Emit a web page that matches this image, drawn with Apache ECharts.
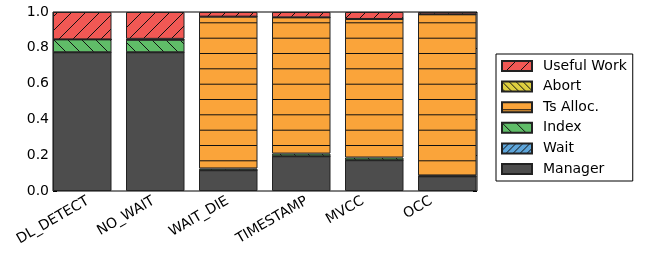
<!DOCTYPE html>
<html>
<head>
<meta charset="utf-8">
<script src="https://cdn.jsdelivr.net/npm/echarts@6/dist/echarts.min.js"></script>
<style>
html, body { margin: 0; padding: 0; background: #fff; }
#chart { width: 647px; height: 255px; }
</style>
</head>
<body>
<div id="chart"></div>
<script>
var categories = ['DL_DETECT', 'NO_WAIT', 'WAIT_DIE', 'TIMESTAMP', 'MVCC', 'OCC'];
var manager = [0.775, 0.775, 0.116, 0.194, 0.172, 0.082];
var wait = [0, 0, 0, 0, 0, 0];
var index = [0.072, 0.070, 0.010, 0.015, 0.015, 0.005];
var tsAlloc = [0, 0, 0.848, 0.761, 0.774, 0.900];
var abort = [0, 0.005, 0, 0, 0, 0];
var useful = [0.153, 0.150, 0.026, 0.030, 0.039, 0.013];

var FONT = '"DejaVu Sans", sans-serif';
var barWidth = 58.5;

// hatch fills like matplotlib
function hatch(bg, kind) {
	var s = kind === '-' ? 46 : 14;
	var c = document.createElement('canvas');
	c.width = s; c.height = s;
	var g = c.getContext('2d');
	g.fillStyle = bg;
	g.fillRect(0, 0, s, s);
	g.strokeStyle = '#111';
	g.lineWidth = 1;
	if (kind === '-') {
		[7.5, 22.8, 38.2].forEach(function (y) {
			g.beginPath(); g.moveTo(0, y); g.lineTo(s, y); g.stroke();
		});
	} else if (kind) {
		var n = kind.length;
		var step = s / n;
		for (var k = -n; k <= 2 * n; k++) {
			var o = k * step;
			g.beginPath();
			if (kind[0] === '/') { g.moveTo(o, s); g.lineTo(o + s, 0); }
			else { g.moveTo(o, 0); g.lineTo(o + s, s); }
			g.stroke();
		}
	}
	return { image: c, repeat: 'repeat' };
}

function mkSeries(name, data, color) {
	return {
		name: name,
		type: 'bar',
		stack: 'total',
		xAxisIndex: 0,
		yAxisIndex: 0,
		barWidth: barWidth,
		data: data,
		itemStyle: { color: color, borderColor: '#222', borderWidth: 1 },
		emphasis: { disabled: true }
	};
}

var chart = echarts.init(document.getElementById('chart'));
var option = {
	animation: false,
	textStyle: { fontFamily: FONT },
	grid: [
		{ left: 45.75, top: 12, width: 438, height: 179 },
		{ left: 53, top: 12, width: 424, height: 179, show: true, borderColor: '#000', borderWidth: 1, backgroundColor: 'transparent' }
	],
	xAxis: [
		{ type: 'category', gridIndex: 0, data: categories, show: false },
		{ type: 'value', gridIndex: 1, min: 0, max: 1, show: false }
	],
	yAxis: [
		{ type: 'value', gridIndex: 0, min: 0, max: 1, show: false },
		{
			type: 'value', gridIndex: 1, min: 0, max: 1, interval: 0.2, position: 'left',
			axisLine: { show: false },
			axisTick: { show: true, inside: true, length: 4, lineStyle: { color: '#000' } },
			axisLabel: { margin: 4, fontSize: 14, color: '#000', fontFamily: FONT,
				formatter: function (v) { return v.toFixed(1); } },
			splitLine: { show: false }
		},
		{
			type: 'value', gridIndex: 1, min: 0, max: 1, interval: 0.2, position: 'right',
			axisLine: { show: false },
			axisTick: { show: true, inside: true, length: 4, lineStyle: { color: '#000' } },
			axisLabel: { show: false },
			splitLine: { show: false }
		}
	],
	legend: {
		orient: 'vertical',
		left: 496,
		top: 54,
		padding: [5, 6, 5, 5],
		itemWidth: 30,
		itemHeight: 10,
		itemGap: 6.6,
		borderColor: '#000',
		borderWidth: 1,
		icon: 'rect',
		textStyle: { fontSize: 14, color: '#000', fontFamily: FONT, padding: [0, 0, 0, 6] },
		data: ['Useful Work', 'Abort', 'Ts Alloc.', 'Index', 'Wait', 'Manager']
	},
	series: [
		mkSeries('Manager', manager, '#4D4D4D'),
		mkSeries('Wait', wait, hatch('#5DA5DA', '//')),
		mkSeries('Index', index, hatch('#60BD68', '\\')),
		mkSeries('Ts Alloc.', tsAlloc, hatch('#FAA43A', '-')),
		mkSeries('Abort', abort, hatch('#DECF3F', '\\\\')),
		mkSeries('Useful Work', useful, hatch('#F15854', '/'))
	]
};
chart.setOption(option);

// rotated category labels, centred under each bar's left edge
var meas = document.createElement('canvas').getContext('2d');
meas.font = '14px "DejaVu Sans"';
var labelTop = 194;
var labels = categories.map(function (name) {
	var edge = chart.convertToPixel({ xAxisIndex: 0 }, name) - barWidth / 2;
	var w = meas.measureText(name).width;
	var h = 14;
	var cy = labelTop + (0.5 * w + 0.866 * h) / 2;
	return {
		type: 'text',
		x: edge,
		y: cy,
		rotation: Math.PI / 6,
		style: {
			text: name, fontSize: 14, fontFamily: FONT, fill: '#000',
			align: 'center', verticalAlign: 'middle'
		}
	};
});
chart.setOption({ graphic: labels });
</script>
</body>
</html>
